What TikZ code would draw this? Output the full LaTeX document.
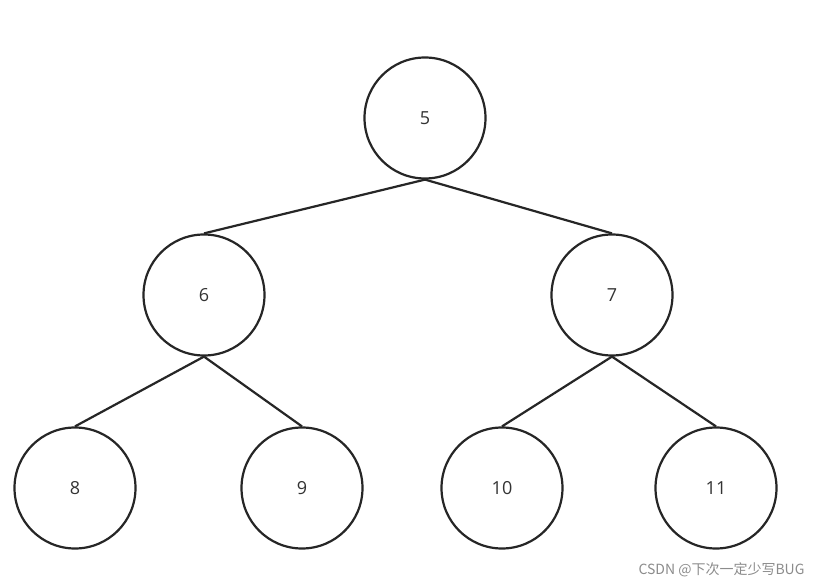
\documentclass[tikz,border=0pt]{standalone}
\usepackage{fontspec}
\setmainfont{Open Sans}
\newfontfamily\cjk{Noto Sans CJK SC}
\begin{document}
\begin{tikzpicture}[x=1pt,y=-1pt,
  tn/.style={circle,draw=black!85,line width=2.2pt,minimum size=121pt,inner sep=0pt,font=\fontsize{18}{22}\selectfont,text=black!80},
  ed/.style={draw=black!85,line width=2.2pt}]
\useasboundingbox[fill=white] (0,0) rectangle (820,588);
\node[tn] (n5) at (425,118) {5};
\node[tn] (n6) at (204,295) {6};
\node[tn] (n7) at (612,295) {7};
\node[tn] (n8) at (75,488) {8};
\node[tn] (n9) at (302,488) {9};
\node[tn] (n10) at (502,488) {10};
\node[tn] (n11) at (716,488) {11};
\draw[ed] (n5.south) -- (n6.north);
\draw[ed] (n5.south) -- (n7.north);
\draw[ed] (n6.south) -- (n8.north);
\draw[ed] (n6.south) -- (n9.north);
\draw[ed] (n7.south) -- (n10.north);
\draw[ed] (n7.south) -- (n11.north);
\node[text=black!45,font=\cjk\fontsize{14}{16}\selectfont,anchor=east] (wm) at (808,570) {CSDN @下次一定少写BUG};
\end{tikzpicture}
\end{document}
